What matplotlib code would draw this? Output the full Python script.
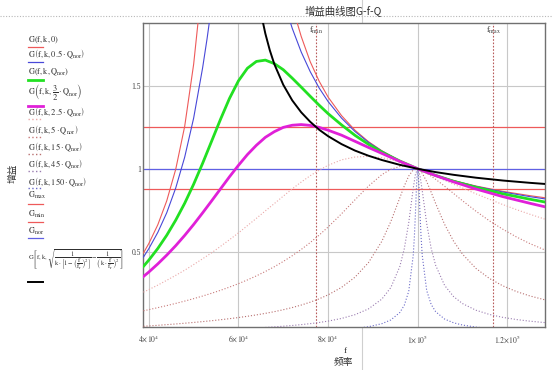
import matplotlib
matplotlib.use("Agg")
import matplotlib.pyplot as plt
from matplotlib.lines import Line2D

plt.rcParams['mathtext.fontset'] = 'stix'
plt.rcParams['font.family'] = ['Liberation Serif', 'DejaVu Serif']

# ---------------- data (frequency in kHz, gain) ----------------
f_grid = [38.8, 40, 42, 44, 46, 48, 50, 52, 54, 56, 58, 60, 62, 64, 66, 68, 70, 72,
          74, 76, 78, 80, 83, 86, 89, 92, 96, 100, 104, 108, 113, 119, 125, 128.5]

# G(f,k,0)
q0_left_f = [38.8, 40, 42, 44, 46, 48, 50, 51, 52]
q0_left_g = [0.492, 0.549, 0.662, 0.807, 0.997, 1.256, 1.631, 1.889, 2.222]
q0_right_f = [72, 73, 74, 76, 78, 80, 83, 86, 89, 92, 96, 100, 104, 108, 113, 119, 125, 128.5]
q0_right_g = [1.996, 1.891, 1.799, 1.647, 1.529, 1.433, 1.321, 1.233, 1.164, 1.109, 1.048,
              1.0, 0.961, 0.929, 0.896, 0.864, 0.838, 0.825]

# G(f,k,0.5 Qnor)
q05_left_f = [38.8, 40, 42, 44, 46, 48, 50, 52, 53, 54]
q05_left_g = [0.467, 0.518, 0.616, 0.735, 0.884, 1.070, 1.306, 1.609, 1.786, 1.983]
q05_right_f = [71, 72, 74, 76, 78, 80, 83, 86, 89, 92, 96, 100, 104, 108, 113, 119, 125, 128.5]
q05_right_g = [1.933, 1.848, 1.705, 1.587, 1.488, 1.406, 1.306, 1.225, 1.160, 1.107, 1.048,
               1.0, 0.961, 0.928, 0.894, 0.860, 0.832, 0.818]

# G(f,k,Qnor)
q1_g = [0.411, 0.449, 0.519, 0.599, 0.690, 0.792, 0.907, 1.033, 1.166, 1.299, 1.425, 1.531,
        1.607, 1.648, 1.656, 1.635, 1.598, 1.547, 1.493, 1.438, 1.384, 1.333, 1.265, 1.202,
        1.148, 1.101, 1.047, 1.0, 0.960, 0.925, 0.888, 0.849, 0.8165, 0.799]

# G(f,k,3/2 Qnor)
q15_g = [0.350, 0.377, 0.426, 0.479, 0.536, 0.598, 0.664, 0.734, 0.806, 0.879, 0.952, 1.021,
         1.086, 1.142, 1.190, 1.224, 1.250, 1.263, 1.267, 1.262, 1.250, 1.233, 1.203, 1.166,
         1.129, 1.093, 1.045, 1.0, 0.959, 0.921, 0.878, 0.832, 0.792, 0.770]

# G(f,k,2.5 Qnor)
q25_f = [38.8, 40, 42, 44, 46, 48, 50, 52, 54, 56, 58, 60, 62, 64, 66, 68, 70, 72, 74, 76, 78,
         80, 83, 86, 89, 92, 94, 96, 98, 100, 102, 104, 106, 108, 110, 113, 116, 119, 122, 125, 128.5]
q25_g = [0.2555, 0.271, 0.298, 0.327, 0.357, 0.388, 0.422, 0.457, 0.493, 0.532, 0.572, 0.613,
         0.657, 0.701, 0.746, 0.790, 0.835, 0.879, 0.920, 0.958, 0.992, 1.021, 1.054, 1.071,
         1.075, 1.067, 1.055, 1.039, 1.021, 1.0, 0.978, 0.955, 0.931, 0.907, 0.884, 0.849,
         0.816, 0.784, 0.754, 0.726, 0.695]

# G(f,k,5 Qnor)
q5_f = [38.8, 40, 42, 44, 46, 48, 50, 52, 54, 56, 58, 60, 62, 64, 66, 68, 70, 72, 74, 76, 78,
        80, 83, 86, 89, 92, 94, 96, 97, 98, 99, 100, 101, 102, 103, 104, 106, 108, 110, 113,
        116, 119, 122, 125, 128.5]
q5_g = [0.143, 0.150, 0.162, 0.1744, 0.1876, 0.2015, 0.2163, 0.232, 0.2488, 0.2667, 0.286,
        0.3068, 0.3293, 0.3537, 0.3803, 0.4088, 0.4407, 0.4753, 0.5131, 0.5546, 0.5997, 0.6486,
        0.7285, 0.8128, 0.8953, 0.9648, 0.997, 1.014, 1.0166, 1.0147, 1.0092, 1.0, 0.9877,
        0.9727, 0.9555, 0.9365, 0.895, 0.851, 0.807, 0.744, 0.686, 0.635, 0.589, 0.549, 0.5086]

# G(f,k,15 Qnor)
q15n_f = [38.8, 40, 42, 44, 46, 48, 50, 52, 54, 56, 58, 60, 62, 64, 66, 68, 70, 72, 74, 76, 78,
          80, 83, 86, 89, 92, 94, 96, 97, 98, 99, 99.5, 100, 100.5, 101, 102, 103, 104, 106,
          108, 110, 113, 116, 119, 122, 125, 128.5]
q15n_g = [0.0496, 0.0517, 0.0554, 0.0594, 0.0635, 0.0680, 0.0727, 0.0777, 0.0831, 0.0890,
          0.0954, 0.1023, 0.1099, 0.1182, 0.1275, 0.1377, 0.1494, 0.1626, 0.1776, 0.1949,
          0.2151, 0.2391, 0.2843, 0.3458, 0.4334, 0.5628, 0.6818, 0.8247, 0.8964, 0.9566,
          0.9941, 1.0013, 1.0, 0.9906, 0.9738, 0.9229, 0.8586, 0.7906, 0.6646, 0.5632, 0.4847,
          0.3987, 0.3380, 0.2935, 0.2595, 0.2329, 0.2083]

# G(f,k,45 Qnor)
q45_f = [66, 68, 70, 72, 74, 76, 78, 80, 83, 86, 89, 92, 94, 96, 97, 98, 99, 99.5, 100, 100.5,
         101, 102, 103, 104, 106, 108, 110, 113, 116, 119, 122, 125, 128.5]
q45_g = [0.0425, 0.0460, 0.0499, 0.0544, 0.0595, 0.0654, 0.0724, 0.0807, 0.0968, 0.1195,
         0.1543, 0.2137, 0.2834, 0.4099, 0.5172, 0.6760, 0.8827, 0.9690, 1.0, 0.9596, 0.8702,
         0.6699, 0.5195, 0.4175, 0.2962, 0.2288, 0.1865, 0.1464, 0.1209, 0.1033, 0.0903,
         0.0804, 0.0715]

# G(f,k,150 Qnor)
q150_f = [86, 89, 92, 94, 96, 97, 98, 99, 99.25, 99.5, 99.75, 100, 100.25, 100.5, 100.75, 101,
          102, 103, 104, 106, 108, 110, 113, 116]
q150_g = [0.0360, 0.0467, 0.0652, 0.0878, 0.1325, 0.1765, 0.2613, 0.4783, 0.5885, 0.7384,
          0.911, 1.0, 0.907, 0.7358, 0.588, 0.4796, 0.2652, 0.1813, 0.1376, 0.0931, 0.0706,
          0.0570, 0.0445, 0.0366]

# boundary curve (black)
qb_f = [64, 65, 66, 67, 68, 70, 72, 74, 76, 78, 80, 83, 86, 89, 92, 96, 100, 104, 108, 113,
        119, 125, 128.5]
qb_g = [2.108, 1.942, 1.816, 1.715, 1.632, 1.507, 1.413, 1.341, 1.284, 1.236, 1.197, 1.149,
        1.110, 1.079, 1.053, 1.024, 1.0, 0.980, 0.9637, 0.9463, 0.9292, 0.9154, 0.9084]

G_max, G_min, G_nor = 1.25, 0.88, 1.0
f_min, f_max = 77.3, 116.8

x_ticks = [40e3, 60e3, 80e3, 100e3, 120e3]
x_tick_labels = [r"$4\!\times\!10^{4}$", r"$6\!\times\!10^{4}$", r"$8\!\times\!10^{4}$",
                 r"$1\!\times\!10^{5}$", r"$1.2\!\times\!10^{5}$"]
y_ticks = [0.5, 1.0, 1.5]
y_tick_labels = ["0.5", "1", "1.5"]

# ---------------- figure ----------------
W, H = 553, 370
fig = plt.figure(figsize=(W / 100, H / 100), dpi=100)


def fx(x):
    return x / W


def fy(y):
    return 1 - y / H


ax = fig.add_axes([fx(143), fy(326.7), fx(545) - fx(143), fy(23) - fy(326.7)])

k = lambda lst: [v * 1000 for v in lst]

RED = '#ee5a5a'
BLUE = '#4848d8'
GREEN = '#22e022'
MAG = '#e020d8'
C25 = '#eaa8a8'
C5 = '#c87a7a'
C15 = '#b87070'
C45 = '#9a7cb0'
C150 = '#6a6ac8'
VCOL = '#b85a5a'
DOT = (0, (1, 1.7))

ax.axhline(G_max, color=RED, lw=0.9, zorder=2)
ax.axhline(G_min, color=RED, lw=0.9, zorder=2)
ax.axhline(G_nor, color='#6060e4', lw=0.9, zorder=2)
ax.axvline(f_min * 1000, color=VCOL, lw=0.8, ls=(0, (1.5, 1.5)), zorder=2)
ax.axvline(f_max * 1000, color=VCOL, lw=0.8, ls=(0, (1.5, 1.5)), zorder=2)

ax.plot(k(q25_f), q25_g, color=C25, lw=0.8, ls=DOT, zorder=3)
ax.plot(k(q5_f), q5_g, color=C5, lw=0.8, ls=DOT, zorder=3)
ax.plot(k(q15n_f), q15n_g, color=C15, lw=0.8, ls=DOT, zorder=3)
ax.plot(k(q45_f), q45_g, color=C45, lw=0.8, ls=DOT, zorder=3)
ax.plot(k(q150_f), q150_g, color=C150, lw=0.8, ls=DOT, zorder=3)

ax.plot(k(q0_left_f), q0_left_g, color=RED, lw=0.8, zorder=4)
ax.plot(k(q0_right_f), q0_right_g, color=RED, lw=0.8, zorder=4)
ax.plot(k(q05_left_f), q05_left_g, color=BLUE, lw=0.8, zorder=4)
ax.plot(k(q05_right_f), q05_right_g, color=BLUE, lw=0.8, zorder=4)
ax.plot(k(f_grid), q1_g, color=GREEN, lw=2.0, zorder=5)
ax.plot(k(f_grid), q15_g, color=MAG, lw=2.0, zorder=5)
ax.plot(k(qb_f), qb_g, color='black', lw=1.4, zorder=6)

ax.set_xlim(38700, 128400)
ax.set_ylim(0.047, 1.88)
ax.set_xticks(x_ticks)
ax.set_xticklabels(x_tick_labels, fontsize=5.5)
ax.set_yticks(y_ticks)
ax.set_yticklabels(y_tick_labels, fontsize=5.5)
ax.tick_params(length=0, pad=5, colors='#404040')
ax.tick_params(axis='y', pad=1.5)
ax.grid(True, color='#c8c8c8', lw=0.8)
ax.set_axisbelow(True)
for s in ax.spines.values():
    s.set_color('#707070')
    s.set_linewidth(1.0)

ax.text(f_min * 1000, 1.835, r"$\mathrm{f_{min}}$", ha='center', va='center', fontsize=6, color='#404040')
ax.text(f_max * 1000, 1.835, r"$\mathrm{f_{max}}$", ha='center', va='center', fontsize=6, color='#404040')

# decorations of the worksheet
fig.add_artist(Line2D([0, 1], [fy(15.5)] * 2, color='#b8b8b8', lw=0.8, ls=(0, (1, 1.5))))
fig.add_artist(Line2D([fx(362)] * 2, [0, 1], color='#cfcfcf', lw=0.8, zorder=0))

cjk = ['Noto Sans CJK SC', 'DejaVu Sans']
fig.text(fx(343), fy(11.5), "增益曲线图G-f-Q", family=cjk, fontsize=7.5, ha='center', va='center', color='#303030')
fig.text(fx(345), fy(351), "f", fontsize=6.5, ha='center', va='center', color='#303030')
fig.text(fx(343), fy(362), "频率", family=cjk, fontsize=7, ha='center', va='center', color='#303030')
fig.text(fx(13), fy(173), "增益", family=cjk, fontsize=7, ha='center', va='center', rotation=90, color='#303030')

# ---------------- trace list (left) ----------------
entries = [
    (r"$\mathrm{G(f,k,0)}$", 40.5, 46.7, RED, 0.9, '-', 6),
    (r"$\mathrm{G\left(f,k,0.5\cdot Q_{nor}\right)}$", 54.5, 62.3, BLUE, 0.9, '-', 6),
    (r"$\mathrm{G(f,k,Q_{nor})}$", 72, 80, GREEN, 2.0, '-', 6),
    (r"$\mathrm{G}\left(\mathrm{f,k,}\dfrac{3}{2}\cdot\mathrm{Q_{nor}}\right)$", 92, 105.5, MAG, 2.0, '-', 6),
    (r"$\mathrm{G\left(f,k,2.5\cdot Q_{nor}\right)}$", 112, 119.3, C25, 1.0, DOT, 6),
    (r"$\mathrm{G\left(f,k,5\cdot Q_{nor}\right)}$", 130, 136.7, C5, 1.0, DOT, 6),
    (r"$\mathrm{G\left(f,k,15\cdot Q_{nor}\right)}$", 147, 154, C15, 1.0, DOT, 6),
    (r"$\mathrm{G\left(f,k,45\cdot Q_{nor}\right)}$", 164, 170.7, C45, 1.0, DOT, 6),
    (r"$\mathrm{G\left(f,k,150\cdot Q_{nor}\right)}$", 182, 188.3, C150, 1.0, DOT, 6),
    (r"$\mathrm{G_{max}}$", 195.5, 204, RED, 0.9, '-', 6),
    (r"$\mathrm{G_{min}}$", 214, 222.3, RED, 0.9, '-', 6),
    (r"$\mathrm{G_{nor}}$", 231, 238.3, '#6060e4', 0.9, '-', 6),
    (r"$\mathrm{G}\left[\mathrm{f,k,}\sqrt{\dfrac{1}{\mathrm{k}\cdot\left[1-\left(\dfrac{\mathrm{f}}{\mathrm{f_r}}\right)^{2}\right]}-\dfrac{1}{\left(\mathrm{k}\cdot\dfrac{\mathrm{f}}{\mathrm{f_r}}\right)^{2}}}\right]$",
     260, 282.3, 'black', 1.4, '-', 4.7),
]
for label, yt, yl, col, lw, ls, fs in entries:
    fig.text(fx(28), fy(yt), label, fontsize=fs, ha='left', va='center', color='#303030')
    fig.add_artist(Line2D([fx(28), fx(43)], [fy(yl)] * 2, color=col, lw=lw, ls=ls))

fig.savefig("out.png", dpi=100, facecolor='white')
